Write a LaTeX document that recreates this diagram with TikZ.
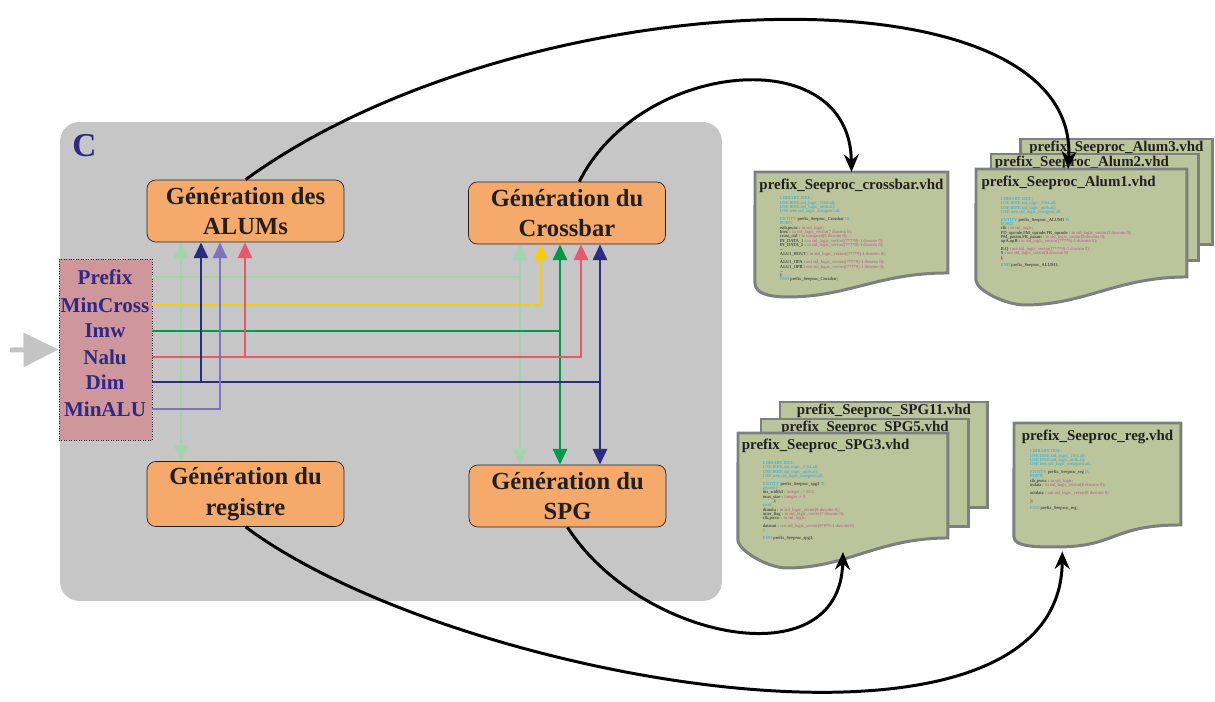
\documentclass[tikz,border=0pt]{standalone}
\usepackage{fontspec}
\setmainfont{Liberation Serif}
\usepackage{xcolor}
\usepackage{tikz}
\usetikzlibrary{positioning,arrows.meta}

\definecolor{panelgray}{HTML}{C5C6C5}
\definecolor{inputgray}{HTML}{C4C4C4}
\definecolor{boxorange}{HTML}{F5AA6B}
\definecolor{parampink}{HTML}{CF969B}
\definecolor{paramblue}{HTML}{2E2A84}
\definecolor{textdark}{HTML}{231F20}
\definecolor{filegreen}{HTML}{BBC49A}
\definecolor{filegray}{HTML}{7F7F7F}
\definecolor{prefixcol}{HTML}{A2D4B0}
\definecolor{mincrosscol}{HTML}{FFCC00}
\definecolor{imwcol}{HTML}{00994C}
\definecolor{nalucol}{HTML}{E8566F}
\definecolor{dimcol}{HTML}{2D2A86}
\definecolor{minalucol}{HTML}{7E72B8}
\definecolor{kwcol}{HTML}{29A8E0}
\definecolor{tycol}{HTML}{B5568A}

\newcommand{\kw}[1]{\textcolor{kwcol}{#1}}
\newcommand{\ty}[1]{\textcolor{tycol}{#1}}
% outline of a file sheet with a wavy bottom edge
\newcommand{\docpath}[5]{(#1.north west) -- (#1.north east) -- (#1.south east)
  .. controls +(-70,0) and +(60,0) .. ++(#2,#3)
  .. controls +(-20,0) and +(0,10) .. ++(#4,#5) -- cycle}

\begin{document}
\begin{tikzpicture}[x=0.02cm, y=-0.02cm,
    >={Triangle[length=9pt,width=8pt]},
    panel/.style={fill=panelgray, rounded corners=11pt, minimum width=13.24cm, minimum height=9.58cm},
    clabel/.style={text=paramblue, font=\fontsize{19}{22}\selectfont\bfseries, inner sep=0pt},
    genbox/.style={draw=textdark, thin, fill=boxorange, rounded corners=5pt, align=center, minimum width=3.94cm, minimum height=1.24cm, text=textdark, font=\fontsize{14}{17.5}\selectfont\bfseries},
    parambox/.style={draw=textdark, densely dotted, thin, fill=parampink, minimum width=1.86cm, minimum height=3.62cm},
    param/.style={text=paramblue, font=\fontsize{12}{14}\selectfont\bfseries, inner sep=0pt},
    sig/.style={line width=1.5pt},
    feed/.style={->, line width=1.7pt, >={Stealth[length=10pt,width=8.5pt]}},
    filebox/.style={anchor=north west, inner sep=0pt, outer sep=0pt},
    filebody/.style={draw=filegray, line width=1.7pt, fill=filegreen},
    filetitle/.style={text=textdark, font=\fontsize{8.5}{10}\selectfont\bfseries, inner sep=0pt},
    vhdcode/.style={align=left, inner sep=0pt, text=textdark, font=\fontsize{2.6}{2.45}\selectfont}
  ]
  \useasboundingbox (0,0) rectangle (1215,702);

  % block C
  \node[panel] (cpanel) at (391,361.5) {};
  \node[clabel, below right=7pt and 7pt of cpanel.north west] (cname) {C};

  \node[genbox] (alums) at (245.5,211) {Génération des\\ALUMs};
  \node[genbox] (crossbar) at (567,213) {Génération du\\Crossbar};
  \node[genbox] (registre) at (245.5,494) {Génération du\\registre};
  \node[genbox] (spg) at (567.5,496) {Génération du\\SPG};

  % parameters
  \node[parambox] (param) at (105.5,349.5) {};
  \node[param] (prefix) at (105,277) {Prefix};
  \node[param] (mincross) at (105,305) {MinCross};
  \node[param] (imw) at (105,331) {Imw};
  \node[param] (nalu) at (105,357) {Nalu};
  \node[param] (dim) at (105,382) {Dim};
  \node[param] (minalu) at (105,409) {MinALU};
  \coordinate (input) at (10,350);
  \draw[line width=2.8pt, inputgray, -{Triangle[length=20pt,width=19pt]}] (input) -- (param.west);

  \coordinate (alumPrefix) at (181,0);
  \coordinate (alumDim) at (201,0);
  \coordinate (alumMinALU) at (220,0);
  \coordinate (alumNalu) at (245,0);
  \coordinate (crossPrefix) at (520,0);
  \coordinate (crossMinCross) at (541,0);
  \coordinate (crossImw) at (560,0);
  \coordinate (crossNalu) at (581,0);
  \coordinate (crossDim) at (600,0);

  \draw[sig, prefixcol] (param.east |- prefix) -- (prefix -| crossPrefix);
  \draw[sig, prefixcol, <->] (alums.south -| alumPrefix) -- (registre.north -| alumPrefix);
  \draw[sig, prefixcol, <->] (crossbar.south -| crossPrefix) -- (spg.north -| crossPrefix);
  \draw[sig, mincrosscol, ->] (param.east |- mincross) -| (crossbar.south -| crossMinCross);
  \draw[sig, imwcol] (param.east |- imw) -- (imw -| crossImw);
  \draw[sig, imwcol, <->] (crossbar.south -| crossImw) -- (spg.north -| crossImw);
  \draw[sig, nalucol, ->] (param.east |- nalu) -| (crossbar.south -| crossNalu);
  \draw[sig, nalucol, ->] (nalu -| alumNalu) -- (alums.south -| alumNalu);
  \draw[sig, dimcol] (param.east |- dim) -- (dim -| crossDim);
  \draw[sig, dimcol, <->] (crossbar.south -| crossDim) -- (spg.north -| crossDim);
  \draw[sig, dimcol, ->] (dim -| alumDim) -- (alums.south -| alumDim);
  \draw[sig, minalucol, ->] (param.east |- minalu) -| (alums.south -| alumMinALU);

  % generated files
  \node[filebox, minimum width=3.86cm, minimum height=2.02cm] (crossbarfile) at (755,172) {};
  \filldraw[filebody] \docpath{crossbarfile}{-160}{24}{-33}{-14};
  \node[filetitle, below=4pt of crossbarfile.north] (crossbartitle) {prefix\_Seeproc\_crossbar.vhd};
  \node[vhdcode, below right=14pt and 14pt of crossbarfile.north west] (crossbarcode) {%
    \kw{LIBRARY IEEE;}\\
    \kw{USE IEEE.std\_logic\_1164.all;}\\
    \kw{USE IEEE.std\_logic\_arith.all;}\\
    \kw{USE ieee.std\_logic\_unsigned.all;}\\[2pt]
    \kw{ENTITY} prefix\_Seeproc\_Crossbar \kw{IS}\\
    \kw{PORT(}\\
    rstb,pwnc : \ty{in std\_logic;}\\
    Imw : \ty{in std\_logic\_vector(7 downto 0);}\\
    cross\_ctrl : \ty{in unsigned(5 downto 0);}\\
    IN\_DATA\_1 : \ty{in std\_logic\_vector((7*7*9)-1 downto 0);}\\
    IN\_DATA\_2 : \ty{in std\_logic\_vector((7*7*9)-1 downto 0);}\\
    ...\\
    ALU1\_BOUT : \ty{in std\_logic\_vector((7*7*9)-1 downto 0);}\\
    ...\\
    ALU1\_OPA : \ty{out std\_logic\_vector((7*7*9)-1 downto 0);}\\
    ALU1\_OPB : \ty{out std\_logic\_vector((7*7*9)-1 downto 0);}\\
    ...\\
    );\\
    \kw{END} prefix\_Seeproc\_Crossbar;};

  \node[filebox, filebody, minimum width=3.86cm, minimum height=2.12cm] (alum3file) at (1020,139) {};
  \node[filetitle, below=1pt of alum3file.north] (alum3title) {prefix\_Seeproc\_Alum3.vhd};
  \node[filebox, filebody, minimum width=4.16cm, minimum height=2.14cm] (alum2file) at (991,154) {};
  \node[filetitle, below right=1pt and 2pt of alum2file.north west] (alum2title) {prefix\_Seeproc\_Alum2.vhd};
  \node[filebox, minimum width=4.22cm, minimum height=2.16cm] (alum1file) at (976,169) {};
  \filldraw[filebody] \docpath{alum1file}{-162}{28}{-49}{-25};
  \node[filetitle, below right=4pt and 3pt of alum1file.north west] (alum1title) {prefix\_Seeproc\_Alum1.vhd};
  \node[vhdcode, below right=16pt and 14pt of alum1file.north west] (alum1code) {%
    \kw{LIBRARY IEEE;}\\
    \kw{USE IEEE.std\_logic\_1164.all;}\\
    \kw{USE IEEE.std\_logic\_arith.all;}\\
    \kw{USE ieee.std\_logic\_unsigned.all;}\\[2pt]
    \kw{ENTITY} prefix\_Seeproc\_ALUM1 \kw{IS}\\
    \kw{PORT(}\\
    clk : \ty{in std\_logic;}\\
    FD\_opcode,FM\_opcode,FR\_opcode : \ty{in std\_logic\_vector(3 downto 0);}\\
    FM\_param,FR\_param : \ty{in std\_logic\_vector(8 downto 0);}\\
    opA,opB : \ty{in std\_logic\_vector((7*7*9)-1 downto 0);}\\[2pt]
    R,Q : \ty{out std\_logic\_vector((7*7*9)-1 downto 0);}\\
    S : \ty{out std\_logic\_vector(8 downto 0)}\\
    );\\[2pt]
    \kw{END} prefix\_Seeproc\_ALUM1;};

  \node[filebox, filebody, minimum width=4.16cm, minimum height=2.12cm] (spg11file) at (780,402) {};
  \node[filetitle, below=1pt of spg11file.north] (spg11title) {prefix\_Seeproc\_SPG11.vhd};
  \node[filebox, filebody, minimum width=4.16cm, minimum height=2.16cm] (spg5file) at (761,419) {};
  \node[filetitle, below=1pt of spg5file.north] (spg5title) {prefix\_Seeproc\_SPG5.vhd};
  \node[filebox, minimum width=4.2cm, minimum height=2.1cm] (spg3file) at (738,433) {};
  \filldraw[filebody] \docpath{spg3file}{-161}{30}{-49}{-28};
  \node[filetitle, below right=3pt and 2pt of spg3file.north west] (spg3title) {prefix\_Seeproc\_SPG3.vhd};
  \node[vhdcode, below right=16pt and 14pt of spg3file.north west] (spg3code) {%
    \kw{LIBRARY IEEE;}\\
    \kw{USE IEEE.std\_logic\_1164.all;}\\
    \kw{USE IEEE.std\_logic\_arith.all;}\\
    \kw{USE ieee.std\_logic\_unsigned.all;}\\[2pt]
    \kw{ENTITY} prefix\_Seeproc\_spg3 \kw{IS}\\
    \kw{generic(}\\
    ins\_width3 : \ty{integer := 553;}\\
    mux\_size : \ty{integer := 3}\\
    \hspace{6pt});\\
    \kw{port(}\\
    dimulu : \ty{in std\_logic\_vector(8 downto 0);}\\
    inter\_flag : \ty{in std\_logic\_vector(7 downto 0);}\\
    clk,pwnc : \ty{in std\_logic;}\\[2pt]
    dataout : \ty{out std\_logic\_vector(8*9*9-1 downto 0)}\\
    \kw{);}\\[2pt]
    \kw{END} prefix\_Seeproc\_spg3;};

  \node[filebox, minimum width=3.34cm, minimum height=2.04cm] (regfile) at (1014,423) {};
  \filldraw[filebody] \docpath{regfile}{-124}{22}{-43}{-10};
  \node[filetitle, below=4pt of regfile.north] (regtitle) {prefix\_Seeproc\_reg.vhd};
  \node[vhdcode, below right=15pt and 9pt of regfile.north west] (regcode) {%
    \kw{LIBRARY IEEE;}\\
    \kw{USE IEEE.std\_logic\_1164.all;}\\
    \kw{USE IEEE.std\_logic\_arith.all;}\\
    \kw{USE ieee.std\_logic\_unsigned.all;}\\[2pt]
    \kw{ENTITY} prefix\_Seeproc\_reg \kw{IS}\\
    \kw{PORT(}\\
    clk,pwnc : \ty{in std\_logic;}\\
    indata : \ty{in std\_logic\_vector(8 downto 0);}\\[2pt]
    outdata : \ty{out std\_logic\_vector(8 downto 0)}\\[2pt]
    );\\[2pt]
    \kw{END} prefix\_Seeproc\_reg;};

  % generation links
  \draw[feed] (alums.north) .. controls (520,-20) and (1080,-40) .. ([xshift=-7.6pt]alum1file.north);
  \draw[feed] ([xshift=7pt]crossbar.north) .. controls (640,60) and (850,40) .. (crossbarfile.north);
  \draw[feed] (registre.south) .. controls (450,680) and (1060,790) .. ([xshift=-20pt,yshift=-15pt]regfile.south);
  \draw[feed] (spg.south) .. controls (640,640) and (840,680) .. ([yshift=-8pt]spg3file.south);
\end{tikzpicture}
\end{document}
